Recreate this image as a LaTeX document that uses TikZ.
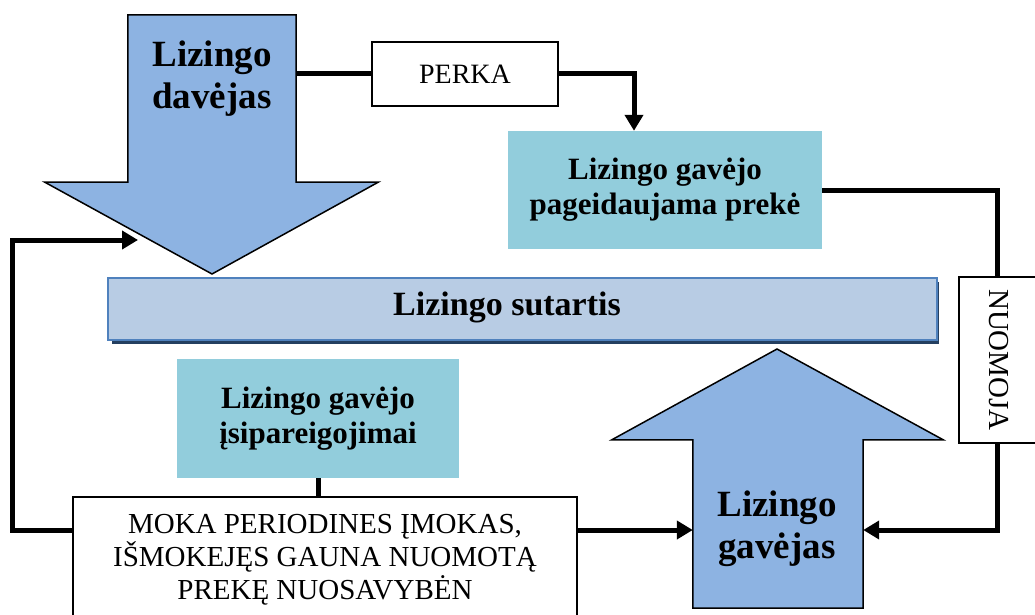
\documentclass[tikz,border=0pt]{standalone}
\usepackage{fontspec}
\setmainfont{Liberation Serif}
\usetikzlibrary{arrows.meta}
\definecolor{arrowblue}{HTML}{8DB3E2}
\definecolor{tealfill}{HTML}{92CDDC}
\definecolor{barfill}{HTML}{B8CCE4}
\definecolor{barline}{HTML}{4F81BD}
\definecolor{barshadow}{HTML}{243F60}
\begin{document}
\begin{tikzpicture}[x=1pt, y=-1pt,
    link/.style={line width=5pt, black},
    tip/.style={-{Triangle[length=16pt, width=18pt]}},
    blockarrow/.style={fill=arrowblue, draw=black, line width=1.5pt, line join=miter},
    shaft/.style={draw=none, inner sep=0pt},
    bigtext/.style={font=\bfseries\fontsize{37}{42}\selectfont, align=center},
    tealbox/.style={fill=tealfill, inner sep=0pt, align=center,
        font=\bfseries\fontsize{31}{35}\selectfont},
    plainbox/.style={draw=black, fill=white, line width=2pt, inner sep=0pt, align=center,
        font=\fontsize{29}{33}\selectfont}]
    \useasboundingbox (0,0) rectangle (1035,615);

    % Lizingo davejas (block arrow pointing down)
    \node[shaft, minimum width=168pt, minimum height=167pt] (giver) at (212,98.5) {};
    \draw[blockarrow] (giver.north west) -- (giver.north east) -- (giver.south east)
        -- ([xshift=82pt]giver.south east) -- (212,274)
        -- ([xshift=-83pt]giver.south west) -- (giver.south west) -- cycle;
    \node[bigtext] (giverlabel) at (212,79) {Lizingo\\dav\.ejas};
    \coordinate (giverin) at (138,240);

    % Lizingo gavejas (block arrow pointing up)
    \node[shaft, minimum width=170pt, minimum height=168pt] (taker) at (778,524) {};
    \draw[blockarrow] (taker.south west) -- (taker.north west)
        -- ([xshift=-81pt]taker.north west) -- (777,349)
        -- ([xshift=80pt]taker.north east) -- (taker.north east) -- (taker.south east) -- cycle;
    \node[bigtext] (takerlabel) at (777,529) {Lizingo\\gav\.ejas};

    % Lizingo sutartis bar with shadow
    \fill[barshadow] (112,282) rectangle (939,344);
    \node[fill=barfill, draw=barline, line width=2.5pt, minimum width=829pt, minimum height=62pt,
        font=\bfseries\fontsize{34}{40}\selectfont] (contract) at (522.5,309) {};
    \node[font=\bfseries\fontsize{34}{40}\selectfont] (contractlabel) at (507,307) {Lizingo sutartis};

    % boxes
    \node[plainbox, minimum width=186pt, minimum height=64pt,
        font=\fontsize{28}{32}\selectfont] (perka) at (465,74) {PERKA};
    \node[tealbox, minimum width=314pt, minimum height=118pt] (wish) at (665,190)
        {Lizingo gav\.ejo\\pageidaujama prek\.e};
    \node[tealbox, minimum width=282pt, minimum height=119pt] (duty) at (318,418.5)
        {Lizingo gav\.ejo\\\k{i}sipareigojimai};
    \node[plainbox, minimum width=504pt, minimum height=126pt] (pay) at (325,560)
        {MOKA PERIODINES \k{I}MOKAS,\\I\v{S}MOKEJ\k{E}S GAUNA NUOMOT\k{A}\\PREK\k{E} NUOSAVYB\.EN};

    % NUOMOJA box, cut off by the right margin
    \draw[black, line width=2pt] (1040,277) -- (959,277) -- (959,443) -- (1040,443);
    \node[rotate=-90, font=\fontsize{29}{33}\selectfont, minimum width=166pt, inner sep=0pt] (lease) at (999,360) {NUOMOJA};

    % connectors
    \draw[link] (wish.east) -| ([xshift=-2pt]lease.west);
    \draw[link, tip] ([xshift=-2pt]lease.east) |- ([yshift=-6pt]taker.east);
    \draw[link] (giver.east |- perka.west) -- (perka.west);
    \draw[link, tip] (perka.east) -| ([xshift=-31pt]wish.north);
    \draw[link, tip] ([yshift=-6pt]pay.north east |- taker.east) -- ([yshift=-6pt]taker.west);
    \draw[link] (duty.south) -- (duty.south |- pay.north);
    \draw[link, tip] ([yshift=-6pt]pay.west |- taker.west) -- ++(-60,0) |- (giverin);
\end{tikzpicture}
\end{document}
